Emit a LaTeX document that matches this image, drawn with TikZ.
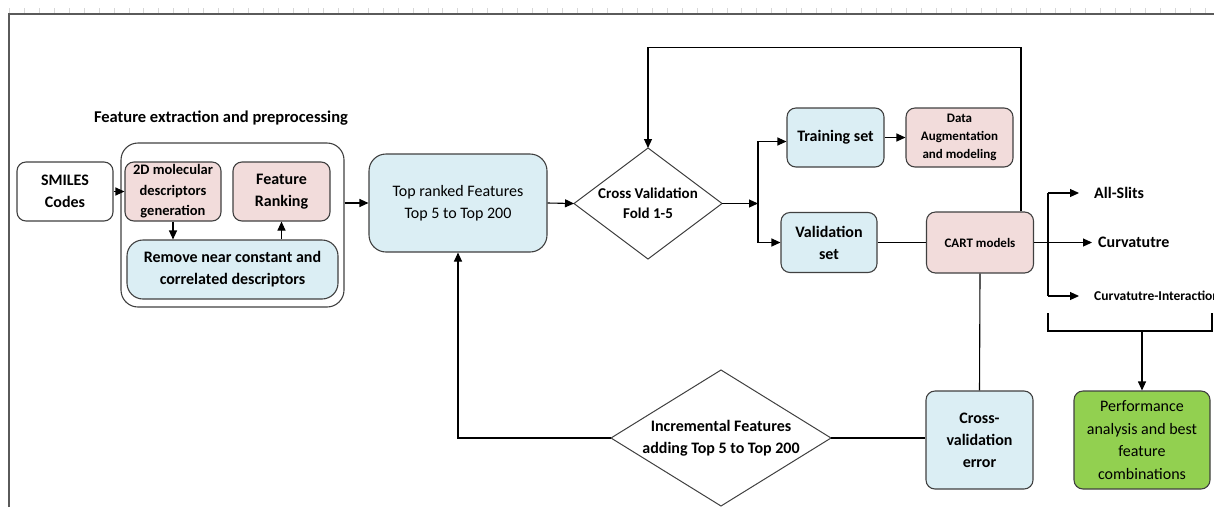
\documentclass[tikz,border=0pt]{standalone}
\usepackage{fontspec}
\setmainfont{Carlito}
\usetikzlibrary{shapes.geometric,arrows.meta}
\definecolor{pinkfill}{HTML}{F2DCDB}
\definecolor{bluefill}{HTML}{DBEEF4}
\definecolor{greenfill}{HTML}{92D050}
\definecolor{bordercol}{HTML}{404040}
\definecolor{framecol}{HTML}{5A5A5A}
\definecolor{tickcol}{HTML}{D8D8D8}
\begin{document}
\begin{tikzpicture}[x=1pt,y=-1pt,
  box/.style={draw=bordercol,line width=1.1pt,rounded corners=9pt,align=center,inner sep=0pt,text=black},
  pinkbox/.style={box,fill=pinkfill},
  bluebox/.style={box,fill=bluefill},
  whitebox/.style={box,fill=white},
  greenbox/.style={box,fill=greenfill},
  diam/.style={draw=bordercol,line width=1pt,diamond,inner sep=0pt,outer sep=0pt,fill=white},
  dtext/.style={align=center,inner sep=0pt},
  bigb/.style={font=\bfseries\fontsize{16}{22}\selectfont},
  bigr/.style={font=\fontsize{16}{22}\selectfont},
  smallb/.style={font=\bfseries\fontsize{13}{18}\selectfont},
  arr/.style={line width=1.1pt,-{Triangle[length=9pt,width=8pt]}},
  ln/.style={line width=1.1pt},
  lbl/.style={anchor=west,inner sep=0pt}
]
\useasboundingbox (0,0) rectangle (1214,507);
% frame and ruler ticks
\foreach \i in {0,...,80} {
  \draw[tickcol,line width=0.8pt] ({9.3+14.95*\i},8) -- ({9.3+14.95*\i},13);
}
\draw[framecol,line width=1.6pt] (9,507) -- (9,14) -- (1214,14);

% feature extraction group
\node[font=\bfseries\fontsize{16.5}{20}\selectfont] (title) at (221,118) {Feature extraction and preprocessing};
\node[draw=bordercol,line width=1.1pt,rounded corners=17pt,minimum width=223pt,minimum height=164pt,inner sep=0pt] (group) at (232.5,225) {};
\node[whitebox,bigb,minimum width=96pt,minimum height=59pt] (smiles) at (65,191.5) {SMILES\\Codes};
\node[pinkbox,font=\bfseries\fontsize{14.5}{20.5}\selectfont,minimum width=96pt,minimum height=59pt] (desc) at (173,191.5) {2D molecular\\descriptors\\generation};
\node[pinkbox,bigb,minimum width=97pt,minimum height=59pt] (rank) at (281.5,191.5) {Feature\\Ranking};
\node[bluebox,bigb,rounded corners=16pt,minimum width=211pt,minimum height=59pt] (remove) at (232.5,269.5) {Remove near constant and\\correlated descriptors};

% main flow
\node[bluebox,bigr,rounded corners=17pt,minimum width=178pt,minimum height=98pt] (top) at (458,203) {Top ranked Features\\Top 5 to Top 200};
\node[diam,minimum width=148pt,minimum height=111pt] (cv) at (648,203.5) {};
\node[dtext,font=\bfseries\fontsize{15}{20.5}\selectfont] (cvtext) at (cv.center) {Cross Validation\\Fold 1-5};
\node[bluebox,bigb,minimum width=97pt,minimum height=59pt] (train) at (835.5,137.5) {Training set};
\node[pinkbox,smallb,minimum width=107pt,minimum height=59pt] (aug) at (959.5,137.5) {Data\\Augmentation\\and modeling};
\node[bluebox,bigb,minimum width=96pt,minimum height=60pt] (valid) at (829,242.5) {Validation\\set};
\node[pinkbox,smallb,minimum width=107pt,minimum height=61pt] (cart) at (980,242.5) {CART models};
\node[bluebox,bigb,minimum width=107pt,minimum height=98pt] (err) at (979.5,440) {Cross-\\validation\\error};
\node[greenbox,font=\fontsize{16}{22.6}\selectfont,minimum width=136pt,minimum height=98pt] (perf) at (1142,440) {Performance\\analysis and best\\feature\\combinations};
\node[diam,minimum width=220pt,minimum height=136pt] (inc) at (721,438) {};
\node[dtext,bigb] (inctext) at (inc.center) {Incremental Features\\adding Top 5 to Top 200};

% outputs
\node[lbl,bigb] (slits) at (1094,193) {All-Slits};
\node[lbl,bigb] (curv) at (1098,242.5) {Curvatutre};
\node[lbl,font=\bfseries\fontsize{13.5}{16}\selectfont] (curvint) at (1094,296) {Curvatutre-Interaction};

\coordinate (split) at (758,203.5);
\coordinate (fbtop) at (0,47.5);
\coordinate (brk) at (1048,0);
\coordinate (brl) at (1048,313);
\coordinate (brr) at (1212,313);
\coordinate (brb) at (0,331);

% connectors
\draw[arr] (smiles.east) -- (desc.west);
\draw[arr] (desc.south) -- (desc.south |- remove.north);
\draw[arr] (rank.south |- remove.north) -- (rank.south);
\draw[arr] (top.west -| group.east) -- (top.west);
\draw[arr] (top.east) -- (cv.west);
\draw[arr] (cv.east) -- (split);
\draw[arr] (split) |- ([yshift=-4pt]train.west);
\draw[arr] (split) |- (valid.west);
\draw[arr] (train.east) -- (aug.west);
\draw[ln] (valid.east) -- (cart.west);
\draw[arr] ([xshift=41pt]cart.north) |- (cv.north |- fbtop) -- (cv.north);
\draw[arr] (cart.east) -- ([xshift=-6pt]curv.west);
\draw[ln] (brk |- slits.west) -- (brk |- curvint.west);
\draw[arr] (brk |- slits.west) -- ([xshift=-15pt]slits.west);
\draw[arr] (brk |- curvint.west) -- ([xshift=-15pt]curvint.west);
\draw[ln] (brl) -- (brl |- brb) -- (brr |- brb) -- (brr);
\draw[arr] (perf.north |- brb) -- (perf.north);
\draw[ln] (cart.south) -- (err.north);
\draw[ln] (inc.east) -- (inc.east -| err.west);
\draw[arr] (inc.west) -| (top.south);
\end{tikzpicture}
\end{document}
